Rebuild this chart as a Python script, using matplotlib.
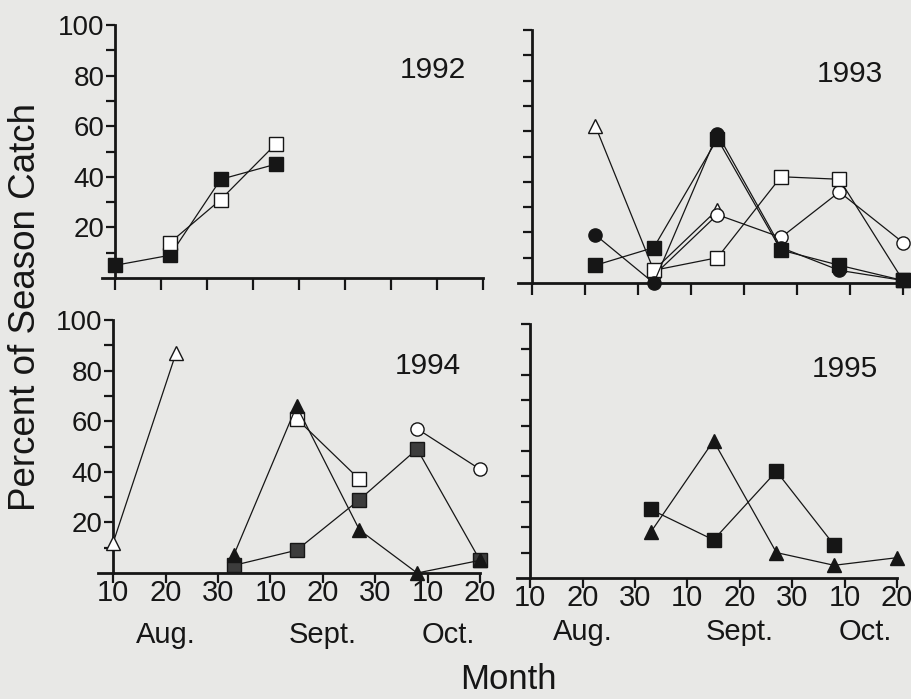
import matplotlib
matplotlib.use('Agg')
import numpy as np
import matplotlib.pyplot as plt

plt.rcParams['font.family'] = ['Liberation Sans', 'DejaVu Sans']

# days after Aug 10 for each sample (ticks every 10 days)
tick_days = [0, 10, 20, 30, 40, 50, 60, 70]
tick_labels = ['10', '20', '30', '10', '20', '30', '10', '20']
month_names = ['Aug.', 'Sept.', 'Oct.']
month_pos = [10, 40, 64]

# 1992
d92_fsq = [0, 12, 23, 35]
v92_fsq = [5, 9, 39, 45]
d92_osq = [12, 23, 35]
v92_osq = [14, 31, 53]

# 1993
d93_fci = [12, 23, 35, 47, 58, 70]
v93_fci = [19, 0, 59, 14, 5, 1]
d93_fsq = [12, 23, 35, 47, 58, 70]
v93_fsq = [7, 14, 57, 13, 7, 1]
d93_osq = [23, 35, 47, 58, 70]
v93_osq = [5, 10, 42, 41, 1]
d93_oci = [23, 35, 47, 58, 70]
v93_oci = [3, 27, 18, 36, 16]
d93_otr = [12, 23, 35]
v93_otr = [62, 5, 29]

# 1994
d94_otr = [0, 12]
v94_otr = [12, 87]
d94_ftr = [23, 35, 47, 58, 70]
v94_ftr = [7, 66, 17, 0, 5]
d94_gsq = [23, 35, 47, 58, 70]
v94_gsq = [3, 9, 29, 49, 5]
d94_osq = [35, 47]
v94_osq = [61, 37]
d94_oci = [58, 70]
v94_oci = [57, 41]

# 1995
d95_fsq = [23, 35, 47, 58]
v95_fsq = [27, 15, 42, 13]
d95_ftr = [23, 35, 47, 58, 70]
v95_ftr = [18, 54, 10, 5, 8]

BG = '#e8e8e6'
INK = '#161616'
W, H = 912, 699

fig = plt.figure(figsize=(W / 100, H / 100), dpi=100, facecolor=BG)


def px_axes(left, right, top, bottom):
    ax = fig.add_axes([left / W, 1 - bottom / H, (right - left) / W, (bottom - top) / H])
    ax.set_facecolor('none')
    return ax


def style_axes(ax, xmin, xmax, ylabels, xlabels, month_y=-0.27):
    ax.set_xlim(xmin, xmax)
    ax.set_ylim(0, 100)
    for s in ['top', 'right']:
        ax.spines[s].set_visible(False)
    ax.spines['left'].set_position(('data', 0))
    ax.spines['left'].set_linewidth(2.0)
    ax.spines['bottom'].set_linewidth(2.0)
    ax.spines['left'].set_color(INK)
    ax.spines['bottom'].set_color(INK)
    ax.set_yticks(np.arange(10, 101, 10))
    if ylabels:
        ax.set_yticklabels(['', '20', '', '40', '', '60', '', '80', '', '100'])
    else:
        ax.set_yticklabels([])
    ax.tick_params(axis='y', direction='out', length=6.5, width=1.6, pad=1,
                   labelsize=20, colors=INK)
    ticks = list(range(0, int(xmax) + 1, 10))
    ax.set_xticks(ticks)
    if xlabels:
        ax.set_xticklabels(tick_labels)
        ax.tick_params(axis='x', direction='out', length=7, width=1.6, pad=-3,
                       labelsize=21, colors=INK)
        for name, pos in zip(month_names, month_pos):
            ax.text(pos, month_y, name, transform=ax.get_xaxis_transform(),
                    ha='center', va='baseline', fontsize=21, color=INK)
    else:
        ax.set_xticklabels([])
        ax.tick_params(axis='x', direction='out', length=8.5, width=1.6, colors=INK)


def series(ax, days, vals, marker, filled, face=None):
    fc = face if face else (INK if filled else 'white')
    ax.plot(days, vals, color=INK, lw=0.9, marker=marker, markersize=9.5,
            markerfacecolor=fc, markeredgecolor=INK, markeredgewidth=1.0,
            clip_on=False, zorder=3)


# 1992
ax1 = px_axes(102, 483, 25, 278)
style_axes(ax1, -2.8, 80, True, False)
series(ax1, d92_fsq, v92_fsq, 's', True)
series(ax1, d92_osq, v92_osq, 's', False)
ax1.text(69, 79, '1992', ha='center', va='baseline', fontsize=21.5, color=INK)

# 1993
ax2 = px_axes(518, 903, 30, 283)
style_axes(ax2, -2.6, 70, False, False)
series(ax2, d93_otr, v93_otr, '^', False)
series(ax2, d93_oci, v93_oci, 'o', False)
series(ax2, d93_osq, v93_osq, 's', False)
series(ax2, d93_fsq, v93_fsq, 's', True)
series(ax2, d93_fci, v93_fci, 'o', True)
ax2.text(60, 79.4, '1993', ha='center', va='baseline', fontsize=21.5, color=INK)

# 1994
ax3 = px_axes(98, 480, 320, 573)
style_axes(ax3, -2.9, 70, True, True, month_y=-0.277)
series(ax3, d94_otr, v94_otr, '^', False)
series(ax3, d94_osq, v94_osq, 's', False)
series(ax3, d94_oci, v94_oci, 'o', False)
series(ax3, d94_gsq, v94_gsq, 's', True, face='#3c3c3c')
series(ax3, d94_ftr, v94_ftr, '^', True)
ax3.text(60, 78.7, '1994', ha='center', va='baseline', fontsize=21.5, color=INK)

# 1995
ax4 = px_axes(517, 897, 324, 578)
style_axes(ax4, -2.5, 70, False, True, month_y=-0.244)
series(ax4, d95_fsq, v95_fsq, 's', True)
series(ax4, d95_ftr, v95_ftr, '^', True)
ax4.text(60, 79.1, '1995', ha='center', va='baseline', fontsize=21.5, color=INK)

fig.text(25.5 / W, 1 - 307 / H, 'Percent of Season Catch', rotation=90,
         ha='center', va='center', fontsize=26.5, color=INK)
fig.text(508 / W, 1 - 689 / H, 'Month', ha='center', va='baseline',
         fontsize=25, color=INK)

plt.savefig('out.png', dpi=100, facecolor=BG)
